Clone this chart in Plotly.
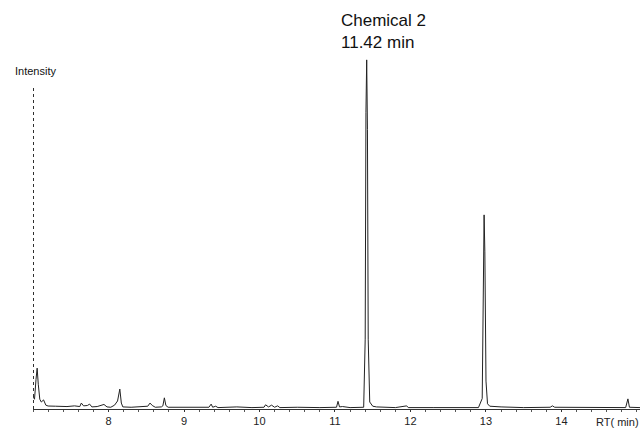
import plotly.graph_objects as go

# Chromatogram vertices (RT in min, intensity in % of main peak)
rt = [7.00, 7.02, 7.04, 7.055, 7.07, 7.09, 7.11, 7.14, 7.17, 7.20, 7.30, 7.45, 7.55, 7.62,
      7.64, 7.67, 7.72, 7.75, 7.78, 7.85, 7.94, 7.98, 8.03, 8.08, 8.12, 8.15, 8.17, 8.19,
      8.30, 8.45, 8.52, 8.55, 8.58, 8.62, 8.70, 8.72, 8.74, 8.76, 8.79, 9.00, 9.20, 9.33,
      9.36, 9.38, 9.42, 9.45, 9.70, 9.90, 10.06, 10.08, 10.12, 10.16, 10.20, 10.24, 10.27,
      10.50, 10.80, 11.02, 11.04, 11.06, 11.10, 11.20, 11.38, 11.40, 11.41, 11.42, 11.43,
      11.44, 11.46, 11.50, 11.55, 11.80, 11.95, 11.97, 12.30, 12.60, 12.90, 12.95, 12.965,
      12.975, 12.985, 13.00, 13.02, 13.05, 13.20, 13.50, 13.85, 13.88, 13.91, 14.30, 14.60,
      14.85, 14.88, 14.90, 15.04]
intensity = [3.7, 2.8, 8.5, 11.7, 7.1, 2.8, 2.0, 2.6, 1.1, 0.85, 0.8, 0.7, 0.9, 0.7,
             1.7, 0.9, 1.0, 1.4, 0.6, 0.7, 1.3, 0.6, 0.5, 1.1, 2.3, 5.7, 1.7, 0.6,
             0.5, 0.6, 0.8, 1.7, 1.0, 0.5, 0.6, 0.9, 3.2, 1.0, 0.5, 0.5, 0.4, 0.5,
             1.4, 0.5, 0.8, 0.4, 0.6, 0.4, 0.5, 1.2, 0.6, 1.1, 0.5, 0.9, 0.4,
             0.5, 0.4, 0.5, 2.2, 0.6, 0.7, 0.4, 0.5, 20.0, 85.0, 100.0, 80.0,
             20.0, 2.0, 0.8, 0.6, 0.4, 0.9, 0.4, 0.4, 0.5, 0.4, 3.0, 40.0,
             55.6, 45.0, 8.0, 1.5, 0.8, 0.6, 0.4, 0.5, 0.9, 0.5, 0.4, 0.5,
             0.4, 2.9, 0.5, 0.4]

tick_vals = [8, 9, 10, 11, 12, 13, 14]
tick_text = ["8", "9", "10", "11", "12", "13", "14"]

peak_label = "Chemical 2<br>11.42 min"
peak_rt = 11.42
peak_int = 100.0

FONT = "Liberation Sans, Arial"
TOP, BASE = 55, 409          # plot area top / bottom in px
PW, PH = 607, BASE - TOP     # plot area size in px

fig = go.Figure()
fig.add_trace(go.Scatter(x=rt, y=intensity, mode="lines",
                         line=dict(color="#222222", width=1), hoverinfo="skip",
                         showlegend=False))

fig.add_shape(type="line", xref="x", yref="y", x0=7.006, x1=7.006, y0=0, y1=92,
              line=dict(color="#222222", width=1, dash="dot"))

fig.add_annotation(x=peak_rt, y=peak_int, xref="x", yref="y", text=peak_label,
                   showarrow=False, xanchor="left", xshift=-28, yanchor="bottom", yshift=6,
                   align="left", font=dict(size=17, color="#111111", family=FONT))
fig.add_annotation(x=(35 - 33) / PW, y=(BASE - 71) / PH, xref="paper", yref="paper",
                   text="Intensity", showarrow=False, xanchor="center", yanchor="middle",
                   font=dict(size=11, color="#111111", family=FONT))
fig.add_annotation(x=(617 - 33) / PW, y=(BASE - 422) / PH, xref="paper", yref="paper",
                   text="RT( min)", showarrow=False, xanchor="center", yanchor="middle",
                   font=dict(size=11, color="#222222", family=FONT))

fig.update_layout(
    width=641, height=428,
    margin=dict(l=33, r=1, t=TOP, b=428 - BASE, autoexpand=False),
    paper_bgcolor="white", plot_bgcolor="white",
    font=dict(family=FONT, size=11, color="#222222"),
    xaxis=dict(range=[7.0, 15.04], tickvals=tick_vals, ticktext=tick_text,
               automargin=False,
               showgrid=False, zeroline=False, showline=True, linecolor="#333333",
               linewidth=1, ticks="outside", ticklen=2, tickcolor="#333333",
               minor=dict(dtick=0.2, tick0=7.0, ticks="outside", ticklen=2,
                          tickcolor="#555555", showgrid=False),
               tickfont=dict(size=11, color="#222222")),
    yaxis=dict(range=[0, 101.4], visible=False),
)

fig.write_html("out.html", config={"displayModeBar": False},
               post_script="document.body.style.margin='0';document.body.style.overflow='hidden';")
